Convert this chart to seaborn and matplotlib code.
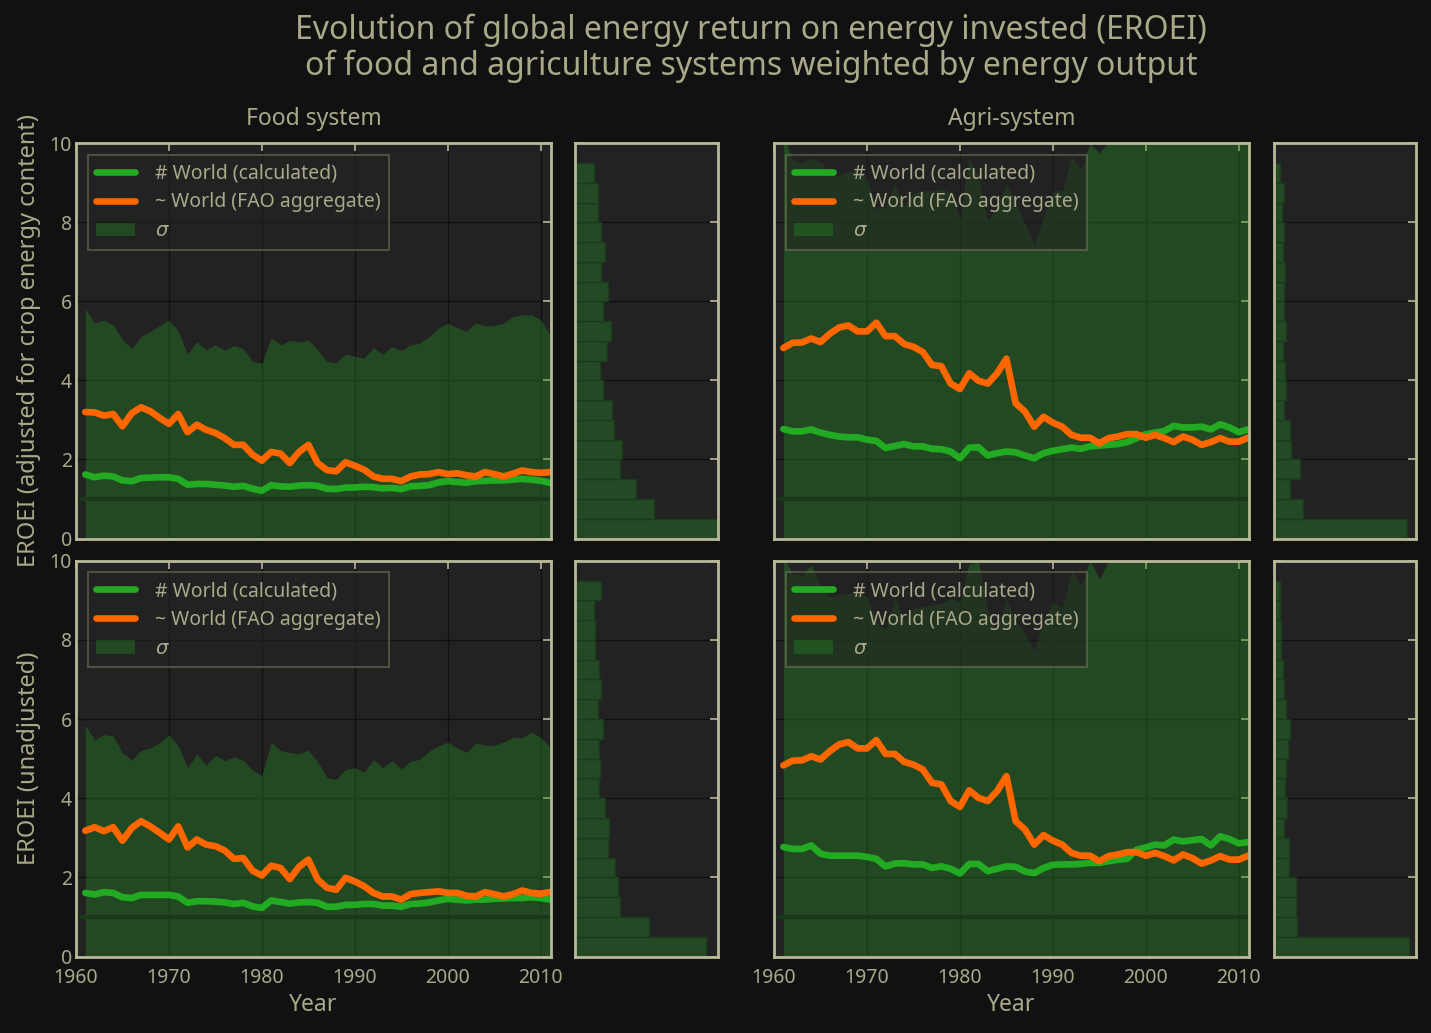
import matplotlib
matplotlib.use("Agg")
import matplotlib.pyplot as plt
import numpy as np
import seaborn as sns

YEARS = list(range(1961, 2012))

# food system, adjusted for crop energy content
food_adj_world = [1.62, 1.55, 1.59, 1.57, 1.47, 1.45, 1.53, 1.54, 1.55, 1.55, 1.51, 1.36, 1.38, 1.38, 1.36,
                  1.34, 1.31, 1.33, 1.26, 1.21, 1.35, 1.32, 1.31, 1.34, 1.35, 1.33, 1.26, 1.25, 1.29, 1.29,
                  1.31, 1.30, 1.27, 1.28, 1.25, 1.32, 1.33, 1.35, 1.42, 1.45, 1.43, 1.41, 1.45, 1.46, 1.47,
                  1.47, 1.49, 1.51, 1.49, 1.46, 1.41]
food_adj_fao = [3.20, 3.19, 3.11, 3.15, 2.84, 3.17, 3.32, 3.22, 3.05, 2.90, 3.15, 2.69, 2.88, 2.75, 2.67,
                2.54, 2.37, 2.37, 2.12, 1.97, 2.19, 2.15, 1.91, 2.19, 2.37, 1.91, 1.73, 1.70, 1.93, 1.84,
                1.74, 1.57, 1.51, 1.51, 1.45, 1.57, 1.62, 1.63, 1.68, 1.63, 1.65, 1.60, 1.57, 1.68, 1.63,
                1.57, 1.64, 1.72, 1.68, 1.66, 1.68]
food_adj_upper = [5.82, 5.45, 5.53, 5.40, 5.03, 4.81, 5.11, 5.24, 5.39, 5.53, 5.25, 4.66, 4.98, 4.77, 4.90,
                  4.77, 4.88, 4.80, 4.48, 4.43, 5.08, 4.90, 5.01, 4.97, 5.03, 4.77, 4.48, 4.44, 4.66, 4.61,
                  4.56, 4.83, 4.66, 4.86, 4.75, 4.90, 4.94, 5.11, 5.32, 5.45, 5.34, 5.24, 5.46, 5.38, 5.39,
                  5.45, 5.61, 5.66, 5.66, 5.53, 5.15]

# food system, unadjusted
food_raw_world = [1.61, 1.57, 1.63, 1.61, 1.50, 1.48, 1.56, 1.56, 1.56, 1.56, 1.52, 1.36, 1.40, 1.40, 1.39,
                  1.37, 1.33, 1.36, 1.27, 1.23, 1.42, 1.38, 1.34, 1.37, 1.38, 1.36, 1.26, 1.26, 1.31, 1.31,
                  1.33, 1.33, 1.29, 1.29, 1.26, 1.33, 1.34, 1.37, 1.42, 1.46, 1.44, 1.42, 1.44, 1.44, 1.46,
                  1.47, 1.48, 1.48, 1.50, 1.48, 1.44]
food_raw_fao = [3.18, 3.27, 3.17, 3.27, 2.93, 3.25, 3.42, 3.29, 3.13, 2.96, 3.29, 2.76, 2.96, 2.83, 2.79,
                2.68, 2.47, 2.49, 2.17, 2.05, 2.30, 2.24, 1.96, 2.27, 2.45, 1.95, 1.74, 1.69, 1.99, 1.90,
                1.78, 1.61, 1.52, 1.52, 1.44, 1.58, 1.61, 1.63, 1.65, 1.61, 1.61, 1.54, 1.52, 1.63, 1.58,
                1.52, 1.58, 1.67, 1.61, 1.59, 1.63]
food_raw_upper = [5.84, 5.47, 5.61, 5.57, 5.15, 4.96, 5.21, 5.27, 5.40, 5.60, 5.33, 4.77, 5.12, 4.83, 5.08,
                  4.95, 5.04, 4.96, 4.71, 4.57, 5.40, 5.21, 5.15, 5.13, 5.21, 4.92, 4.52, 4.47, 4.73, 4.77,
                  4.66, 4.98, 4.77, 4.95, 4.74, 4.94, 4.98, 5.19, 5.32, 5.42, 5.27, 5.16, 5.40, 5.34, 5.33,
                  5.42, 5.54, 5.53, 5.67, 5.54, 5.29]

# agri-system, adjusted
agri_adj_world = [2.77, 2.71, 2.71, 2.76, 2.68, 2.62, 2.58, 2.56, 2.56, 2.50, 2.47, 2.29, 2.34, 2.39, 2.33,
                  2.33, 2.27, 2.26, 2.20, 2.03, 2.30, 2.31, 2.10, 2.16, 2.20, 2.18, 2.10, 2.03, 2.16, 2.22,
                  2.26, 2.30, 2.27, 2.33, 2.35, 2.37, 2.39, 2.44, 2.54, 2.64, 2.68, 2.72, 2.85, 2.81, 2.81,
                  2.83, 2.76, 2.89, 2.81, 2.69, 2.76]
agri_adj_fao = [4.82, 4.95, 4.96, 5.06, 4.97, 5.18, 5.34, 5.39, 5.24, 5.24, 5.46, 5.12, 5.12, 4.92, 4.85,
                4.72, 4.39, 4.36, 3.92, 3.78, 4.18, 3.99, 3.92, 4.18, 4.55, 3.42, 3.21, 2.83, 3.08, 2.93,
                2.83, 2.62, 2.55, 2.55, 2.41, 2.54, 2.58, 2.64, 2.64, 2.55, 2.62, 2.54, 2.44, 2.58, 2.50,
                2.37, 2.44, 2.54, 2.45, 2.45, 2.55]
agri_adj_upper = [10.2, 9.59, 9.50, 9.63, 9.54, 9.25, 9.17, 9.29, 9.27, 9.13, 8.34, 8.38, 8.96, 8.42, 8.76,
                  8.80, 8.80, 8.84, 8.76, 8.09, 9.63, 9.13, 8.05, 8.38, 9.00, 8.51, 7.97, 7.43, 8.13, 8.80,
                  8.80, 9.67, 9.34, 10.0, 9.75, 10.04, 10.4, 10.6, 10.8, 10.9, 11.0, 10.9, 11.1, 11.2, 11.0,
                  11.1, 11.3, 11.2, 11.4, 11.3, 11.2]

# agri-system, unadjusted
agri_raw_world = [2.77, 2.72, 2.72, 2.81, 2.60, 2.55, 2.55, 2.55, 2.55, 2.52, 2.47, 2.28, 2.35, 2.36, 2.33,
                  2.33, 2.24, 2.28, 2.22, 2.10, 2.34, 2.34, 2.16, 2.22, 2.28, 2.27, 2.15, 2.11, 2.24, 2.32,
                  2.33, 2.33, 2.34, 2.37, 2.37, 2.41, 2.45, 2.47, 2.70, 2.76, 2.83, 2.81, 2.96, 2.91, 2.94,
                  2.97, 2.81, 3.04, 2.97, 2.86, 2.89]
agri_raw_fao = [4.83, 4.95, 4.96, 5.06, 4.98, 5.19, 5.36, 5.42, 5.26, 5.26, 5.47, 5.12, 5.12, 4.92, 4.85,
                4.73, 4.39, 4.35, 3.93, 3.78, 4.20, 4.01, 3.93, 4.18, 4.56, 3.42, 3.21, 2.83, 3.07, 2.93,
                2.83, 2.62, 2.55, 2.55, 2.41, 2.54, 2.58, 2.64, 2.64, 2.55, 2.62, 2.54, 2.43, 2.58, 2.49,
                2.35, 2.43, 2.54, 2.45, 2.45, 2.55]
agri_raw_upper = [10.1, 9.67, 9.63, 9.89, 9.38, 9.09, 9.13, 9.17, 9.17, 9.09, 8.46, 8.26, 9.09, 8.51, 8.80,
                  8.84, 8.88, 8.92, 9.05, 8.96, 9.92, 9.96, 8.71, 8.22, 9.05, 8.46, 8.17, 7.72, 8.46, 8.96,
                  8.80, 9.75, 9.38, 10.0, 9.54, 10.0, 10.4, 10.6, 10.8, 10.9, 11.0, 10.9, 11.1, 11.2, 11.0,
                  11.1, 11.3, 11.2, 11.4, 11.3, 11.2]

# country EROEI distributions, 0.5-wide bins from 0 to 9.5 (bottom to top)
BIN_EDGES = [i * 0.5 for i in range(20)]
food_adj_hist = [422, 233, 182, 134, 140, 116, 110, 83, 74, 95, 107, 83, 98, 77, 89, 77, 68, 68, 56]
agri_adj_hist = [392, 86, 48, 78, 51, 48, 29, 36, 32, 26, 36, 29, 29, 32, 26, 29, 23, 29, 17]
food_raw_hist = [388, 221, 134, 128, 119, 98, 101, 89, 71, 74, 71, 83, 68, 77, 71, 59, 59, 56, 77]
agri_raw_hist = [398, 68, 65, 65, 44, 44, 29, 38, 32, 35, 41, 47, 35, 29, 26, 20, 20, 17, 17]
HIST_XMAX = [422, 420, 423, 420]

BG = "#111111"
FACE = "#222222"
TXT = "#a9a98a"
SPINE = "#b9b99a"
GREEN = "#22aa22"
ORANGE = "#ff6600"
SIGMA = "#228b22"
BAR = "#234a24"

sns.set_theme(style="dark")
plt.rcParams.update({
    "font.family": ["Noto Sans", "DejaVu Sans"],
    "figure.facecolor": BG,
    "axes.facecolor": FACE,
    "axes.edgecolor": SPINE,
    "axes.linewidth": 2,
    "axes.labelcolor": TXT,
    "axes.titlecolor": TXT,
    "text.color": TXT,
    "xtick.color": SPINE,
    "ytick.color": SPINE,
    "xtick.labelcolor": TXT,
    "ytick.labelcolor": TXT,
    "grid.color": "#111111",
    "grid.linewidth": 1.0,
})

fig = plt.figure(figsize=(14.31, 10.33), dpi=100)

cols = [(0.0531, 0.3319), (0.4018, 0.0996), (0.5409, 0.3319), (0.8903, 0.0992)]
rows = [(0.4787, 0.3826), (0.0739, 0.3833)]

panels = [
    [(food_adj_world, food_adj_fao, food_adj_upper, food_adj_hist),
     (agri_adj_world, agri_adj_fao, agri_adj_upper, agri_adj_hist)],
    [(food_raw_world, food_raw_fao, food_raw_upper, food_raw_hist),
     (agri_raw_world, agri_raw_fao, agri_raw_upper, agri_raw_hist)],
]
ylabels = ["EROEI (adjusted for crop energy content)", "EROEI (unadjusted)"]
titles = ["Food system", "Agri-system"]
centers = [e + 0.25 for e in BIN_EDGES[:-1]]


def style_ax(ax):
    ax.set_ylim(0, 10)
    ax.tick_params(direction="in", length=6, width=1.2, top=True, right=True,
                   labelsize=14, pad=3)
    ax.tick_params(axis="x", pad=8)
    ax.grid(True)
    ax.set_axisbelow(True)
    for s in ax.spines.values():
        s.set_visible(True)
        s.set_color(SPINE)
        s.set_linewidth(2)


for r, (rb, rh) in enumerate(rows):
    for c in range(2):
        world, fao, upper, hist = panels[r][c]
        mx, mw = cols[2 * c]
        hx, hw = cols[2 * c + 1]
        ax = fig.add_axes([mx, rb, mw, rh])
        hax = fig.add_axes([hx, rb, hw, rh])

        style_ax(ax)
        sns.lineplot(x=YEARS, y=world, ax=ax, color=GREEN, lw=4.8, label="# World (calculated)")
        sns.lineplot(x=YEARS, y=fao, ax=ax, color=ORANGE, lw=4.8, label="~ World (FAO aggregate)")
        ax.fill_between(YEARS, 0, upper, color=SIGMA, alpha=0.38, lw=0, label=r"$\sigma$", zorder=1)
        ax.hlines(1, YEARS[0] - 0.7, YEARS[-1], color="#1a381b", lw=3, zorder=1.5)
        ax.set_xlim(1960, 2011.1)
        ax.set_ylim(0, 10)
        ax.set_xticks(range(1960, 2011, 10))
        ax.set_yticks(range(0, 11, 2))
        if c == 1:
            ax.set_yticklabels([])
        if r == 0:
            ax.set_xticklabels([])
            ax.set_xlabel("")
            ax.set_title(titles[c], fontsize=16.5, pad=13)
        else:
            ax.set_xlabel("Year", fontsize=16.5, labelpad=4)
        if c == 0:
            ax.set_ylabel(ylabels[r], fontsize=17, labelpad=6)
        leg = ax.legend(loc="upper left", fontsize=14, handlelength=2.0, borderpad=0.45,
                        labelspacing=0.45, handletextpad=1.0, borderaxespad=0.6,
                        frameon=True, fancybox=False, framealpha=0.55)
        leg.get_frame().set_facecolor(FACE)
        leg.get_frame().set_edgecolor("#77775e")
        leg.get_frame().set_linewidth(1.5)
        for t in leg.get_texts():
            t.set_color(TXT)

        style_ax(hax)
        sns.histplot(y=centers, weights=hist, bins=BIN_EDGES, ax=hax, color=BAR, alpha=1.0,
                     edgecolor="#1c3b1d", linewidth=1)
        hax.set_xlim(0, HIST_XMAX[2 * r + c])
        hax.set_ylim(0, 10)
        hax.set_yticks(range(0, 11, 2))
        hax.set_xticks([])
        hax.set_yticklabels([])
        hax.set_xlabel("")
        hax.set_ylabel("")
        hax.tick_params(left=True, right=True, top=False, bottom=False)

fig.text(0.525, 0.971, "Evolution of global energy return on energy invested (EROEI)",
         ha="center", va="center", fontsize=23, color=TXT)
fig.text(0.525, 0.936, "of food and agriculture systems weighted by energy output",
         ha="center", va="center", fontsize=23, color=TXT)

fig.savefig("out.png", dpi=100, facecolor=BG)
